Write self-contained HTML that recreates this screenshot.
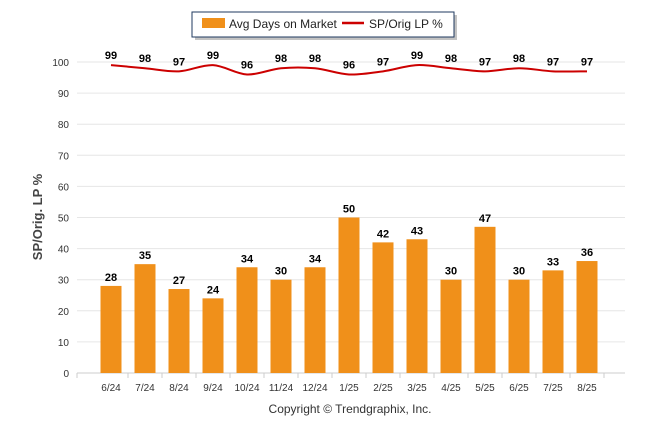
<!DOCTYPE html>
<html><head><meta charset="utf-8"><style>
body{margin:0;background:#fff;font-family:"Liberation Sans",Arial,sans-serif}
svg{display:block}
</style></head><body>
<svg id="c" width="646" height="434">
<g>
<rect x="195" y="15" width="262" height="25" fill="#888" opacity="0.5"/>
<rect x="192" y="12" width="262" height="25" fill="#fff" stroke="#1f3a5f" stroke-width="1"/>
<rect x="202" y="18" width="23" height="10" fill="#f0901a"/>
<text x="229" y="28" font-size="12" fill="#222">Avg Days on Market</text>
<line x1="342" y1="23" x2="364" y2="23" stroke="#cc0000" stroke-width="2.5"/>
<text x="369" y="28" font-size="12" fill="#222">SP/Orig LP %</text>
</g>
<text transform="translate(42,217) rotate(-90)" text-anchor="middle" font-size="13" font-weight="bold" fill="#444">SP/Orig. LP %</text>
<text x="350" y="413" text-anchor="middle" font-size="12" fill="#333">Copyright © Trendgraphix, Inc.</text>
<g id="grid"></g><g id="bars"></g><g id="line"></g><g id="labels"></g>
</svg>
<script>
const categories=["6/24","7/24","8/24","9/24","10/24","11/24","12/24","1/25","2/25","3/25","4/25","5/25","6/25","7/25","8/25"];
const daysOnMarket=[28,35,27,24,34,30,34,50,42,43,30,47,30,33,36];
const spOrigLp=[99,98,97,99,96,98,98,96,97,99,98,97,98,97,97];
const yTicks=[0,10,20,30,40,50,60,70,80,90,100];
const NS="http://www.w3.org/2000/svg";
const y0=373,yTop=62,xl=77,xr=625;
const y=v=>y0-(v/100)*(y0-yTop);
const x=i=>111+i*34;
function mk(t,a,p){const e=document.createElementNS(NS,t);for(const k in a)e.setAttribute(k,a[k]);p.appendChild(e);return e;}
const grid=document.getElementById('grid'),bars=document.getElementById('bars'),line=document.getElementById('line'),labels=document.getElementById('labels');
yTicks.forEach(v=>{
const g=mk('line',{x1:xl,x2:xr,y1:y(v),y2:y(v),stroke:v===0?'#ccc':'#e6e6e6','stroke-width':1},grid);


const t=mk('text',{x:69,y:y(v)+4,'text-anchor':'end','font-size':10,fill:'#333'},grid);t.textContent=v;


});
mk('line',{x1:xl,x2:xl,y1:y0,y2:y0+5,stroke:'#ccc'},grid);
categories.forEach((c,i)=>{
mk('line',{x1:x(i)+17,x2:x(i)+17,y1:y0,y2:y0+5,stroke:'#ccc'},grid);
const t=mk('text',{x:x(i),y:y0+18,'text-anchor':'middle','font-size':10,fill:'#333'},grid);t.textContent=c;


const b=mk('rect',{x:x(i)-10.5,y:y(daysOnMarket[i]),width:21,height:y0-y(daysOnMarket[i]),fill:'#f0901a'},bars);


const l=mk('text',{x:x(i),y:y(daysOnMarket[i])-5,'text-anchor':'middle','font-size':11,'font-weight':'bold',fill:'#000'},labels);l.textContent=daysOnMarket[i];


const l2=mk('text',{x:x(i),y:y(spOrigLp[i])-6,'text-anchor':'middle','font-size':11,'font-weight':'bold',fill:'#000'},labels);l2.textContent=spOrigLp[i];


});
const pts=spOrigLp.map((v,i)=>[x(i),y(v)]);
let d='M'+pts[0][0]+','+pts[0][1];
for(let i=0;i<pts.length-1;i++){
const p0=pts[i-1]||pts[i],p1=pts[i],p2=pts[i+1],p3=pts[i+2]||p2;
const c1=[p1[0]+(p2[0]-p0[0])/6,p1[1]+(p2[1]-p0[1])/6],c2=[p2[0]-(p3[0]-p1[0])/6,p2[1]-(p3[1]-p1[1])/6];
d+=' C'+c1+' '+c2+' '+p2;
}
const pl=mk('path',{d:d,fill:'none',stroke:'#cc0000','stroke-width':2},line);


</script>
</body></html>
